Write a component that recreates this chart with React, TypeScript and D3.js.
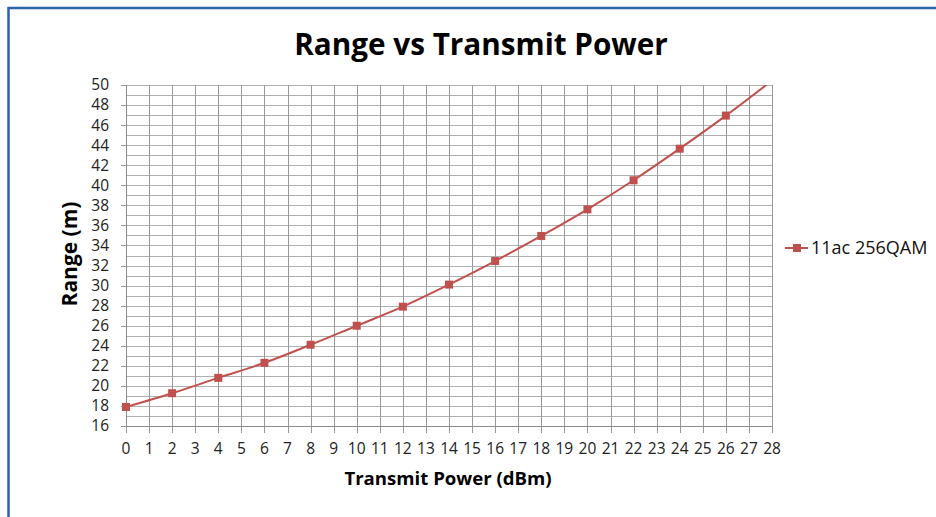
import React from "react";
import * as d3 from "d3";

const powers = [0, 2, 4, 6, 8, 10, 12, 14, 16, 18, 20, 22, 24, 26, 28];
const ranges = [17.9, 19.27, 20.8, 22.3, 24.1, 26.0, 27.9, 30.1, 32.45, 34.95, 37.6, 40.5, 43.65, 46.95, 50.45];
const xTicks = d3.range(0, 29, 1);
const yTicks = d3.range(16, 51, 2);
const yGrid = d3.range(16, 51, 1);
const seriesName = "11ac 256QAM";
const title = "Range vs Transmit Power";
const xTitle = "Transmit Power (dBm)";
const yTitle = "Range (m)";

const W = 936, H = 517;
const FONT = "'Open Sans', 'DejaVu Sans', sans-serif";
const RED = "#c0504d";

export default function App() {
  const x = d3.scaleLinear().domain([0, 28]).range([126, 772]);
  const y = d3.scaleLinear().domain([16, 50]).range([426, 85]);
  const line = d3.line<number>().x((_, i) => x(powers[i])).y((d) => y(d)).curve(d3.curveCatmullRom.alpha(0.5));
  const pts = ranges.map((r, i) => ({ p: powers[i], r })).filter((d) => d.r <= 50);
  return (
    <div style={{ position: "absolute", left: 0, top: 0 }}>
      <svg width={W} height={H} style={{ display: "block", background: "#fff" }}>
        <defs>
          <clipPath id="plotclip">
            <rect x={x(0)} y={y(50)} width={x(28) - x(0)} height={y(16) - y(50)} />
          </clipPath>
        </defs>
        <rect x={8.5} y={8} width={W} height={H} fill="#fff" stroke="#2b62a8" strokeWidth={2.5} />
        <text x={481} y={55} textAnchor="middle" fontFamily={FONT} fontWeight={700} fontSize={29.7} fill="#000">{title}</text>
        {yGrid.map((v) => (
          <line key={"h" + v} x1={x(0)} x2={x(28)} y1={Math.round(y(v)) + 0.5} y2={Math.round(y(v)) + 0.5} stroke="#b0b0b0" strokeWidth={1} />
        ))}
        {xTicks.map((v) => (
          <line key={"v" + v} x1={Math.round(x(v)) + 0.5} x2={Math.round(x(v)) + 0.5} y1={y(50)} y2={y(16) + 7} stroke="#999" strokeWidth={1} />
        ))}
        {yTicks.map((v) => (
          <line key={"yt" + v} x1={x(0) - 5} x2={x(0)} y1={Math.round(y(v)) + 0.5} y2={Math.round(y(v)) + 0.5} stroke="#999" strokeWidth={1} />
        ))}
        <line x1={Math.round(x(0)) + 0.5} x2={Math.round(x(0)) + 0.5} y1={y(50)} y2={y(16)} stroke="#8c8c8c" />
        <line x1={x(0)} x2={x(28)} y1={Math.round(y(16)) + 0.5} y2={Math.round(y(16)) + 0.5} stroke="#8c8c8c" />
        {yTicks.map((v) => (
          <text key={"yl" + v} x={109} y={y(v)} dy="0.35em" textAnchor="end" fontFamily={FONT} fontSize={15.5} fill="#222">{v}</text>
        ))}
        {xTicks.map((v) => (
          <text key={"xl" + v} x={x(v)} y={449} dy="0.35em" textAnchor="middle" fontFamily={FONT} fontSize={15.5} fill="#222">{v}</text>
        ))}
        <text x={448} y={478} dy="0.35em" textAnchor="middle" fontFamily={FONT} fontWeight={700} fontSize={18.6} fill="#000">{xTitle}</text>
        <text transform={`translate(70,254) rotate(-90)`} textAnchor="middle" dy="0.35em" fontFamily={FONT} fontWeight={700} fontSize={21} fill="#000">{yTitle}</text>
        <g clipPath="url(#plotclip)">
          <path d={line(ranges) || ""} fill="none" stroke={RED} strokeWidth={2} />
        </g>
        {pts.map((d) => (
          <rect key={"m" + d.p} x={x(d.p) - 4} y={y(d.r) - 4} width={8} height={8} fill={RED} />
        ))}
        <line x1={785} x2={808} y1={248} y2={248} stroke={RED} strokeWidth={2} />
        <rect x={793} y={244} width={8} height={8} fill={RED} />
        <text x={811} y={248} dy="0.35em" fontFamily={FONT} fontSize={18} fill="#111">{seriesName}</text>
      </svg>
    </div>
  );
}
